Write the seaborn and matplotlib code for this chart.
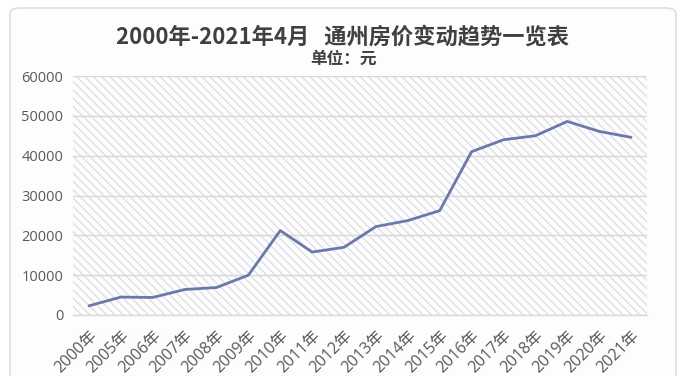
"""
通州房价变动趋势 2000-2021.4 (line chart on hatched card)
"""

import matplotlib
matplotlib.use("Agg")
import matplotlib.pyplot as plt
import matplotlib.patches as mpatches
import pandas as pd
import seaborn as sns

# ── Data ─────────────────────────────────────────────────────────────────────
years = ["2000年", "2005年", "2006年", "2007年", "2008年", "2009年", "2010年",
         "2011年", "2012年", "2013年", "2014年", "2015年", "2016年", "2017年",
         "2018年", "2019年", "2020年", "2021年"]
prices = [2300, 4500, 4400, 6400, 6900, 10000, 21200, 15800, 17000, 22200,
          23700, 26200, 41000, 44000, 45000, 48600, 46100, 44600]
y_ticks = [0, 10000, 20000, 30000, 40000, 50000, 60000]

title = "2000年-2021年4月   通州房价变动趋势一览表"
subtitle = "单位：元"

df = pd.DataFrame({"year": years, "price": prices})

# ── Style ────────────────────────────────────────────────────────────────────
sns.set_theme(style="white")
plt.rcParams["font.family"] = ["Noto Sans CJK SC", "DejaVu Sans"]
plt.rcParams["hatch.linewidth"] = 0.9

TEXT = "#595959"
GRID = "#d9d9d9"
LINE = "#6a79aa"
TICK_FONT = ["Open Sans", "Noto Sans CJK SC"]

fig = plt.figure(figsize=(6.86, 3.76), dpi=100)
fig.patch.set_facecolor("white")

# card background with rounded border
W, H = 686, 376
card = mpatches.FancyBboxPatch((10 / W, -0.05), 666 / W, (H - 8) / H + 0.05,
                               boxstyle="round,pad=0,rounding_size=0.015",
                               transform=fig.transFigure, facecolor="#fdfdfd",
                               edgecolor="#dedede", linewidth=1.2, zorder=-1)
fig.patches.append(card)

ax = fig.add_axes([73 / W, 1 - 315 / H, (647 - 73) / W, (315 - 76) / H])
ax.set_zorder(2)
ax.set_facecolor("none")

# hatched plot area
ax.add_patch(mpatches.Rectangle((0, 0), 1, 1, transform=ax.transAxes,
                                facecolor="none", edgecolor="#dcdce3",
                                linewidth=0, hatch="\\\\\\\\", zorder=0))

sns.lineplot(data=df, x="year", y="price", ax=ax, color=LINE,
             linewidth=2.0, sort=False, zorder=3)

ax.set_xlim(-0.5, len(years) - 0.5)
ax.set_ylim(0, 60000)
ax.set_yticks(y_ticks)
ax.set_yticklabels([str(v) for v in y_ticks])
ax.grid(axis="y", color=GRID, linewidth=1.0)
ax.set_axisbelow(True)
for s in ["top", "right", "left"]:
    ax.spines[s].set_visible(False)
ax.spines["bottom"].set_color(GRID)
ax.spines["bottom"].set_linewidth(1.0)

ax.set_xlabel("")
ax.set_ylabel("")
ax.tick_params(axis="both", length=0, colors=TEXT)
ax.tick_params(axis="y", pad=7, labelsize=10.5)
ax.tick_params(axis="x", pad=9, labelsize=11.5)
for lab in ax.get_yticklabels():
    lab.set_family(TICK_FONT)
for lab in ax.get_xticklabels():
    lab.set_family(TICK_FONT)
    lab.set_rotation(45)
    lab.set_ha("right")
    lab.set_rotation_mode("anchor")

fig.text(0.5, 1 - 37 / H, title, ha="center", va="center", fontsize=16,
         fontweight="bold", color="#404040")
fig.text(0.5, 1 - 59 / H, subtitle, ha="center", va="center", fontsize=12,
         fontweight="bold", color="#404040")

plt.savefig("out.png", dpi=100)
